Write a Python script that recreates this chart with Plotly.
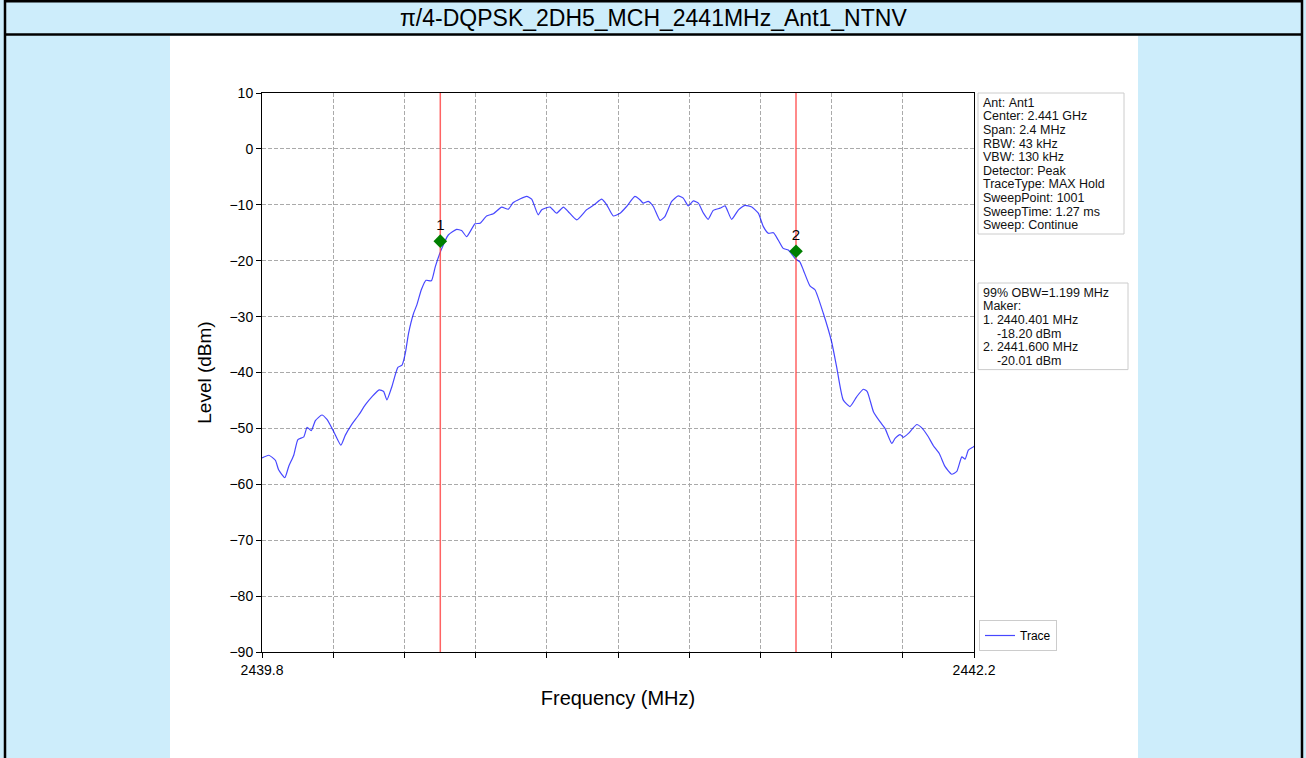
import plotly.graph_objects as go

# ---------------- data ----------------
title_text = "π/4-DQPSK_2DH5_MCH_2441MHz_Ant1_NTNV"

freq_mhz = [
    2439.800, 2439.823, 2439.845, 2439.856, 2439.877, 2439.890, 2439.907, 2439.921,
    2439.941, 2439.952, 2439.966, 2439.980, 2440.002, 2440.019, 2440.042, 2440.066,
    2440.081, 2440.101, 2440.126, 2440.148, 2440.171, 2440.195, 2440.210, 2440.221,
    2440.238, 2440.258, 2440.272, 2440.283, 2440.294, 2440.311, 2440.322, 2440.337,
    2440.353, 2440.371, 2440.384, 2440.403, 2440.428, 2440.456, 2440.473, 2440.490,
    2440.518, 2440.535, 2440.557, 2440.580, 2440.608, 2440.630, 2440.647, 2440.692,
    2440.709, 2440.731, 2440.743, 2440.771, 2440.793, 2440.816, 2440.832, 2440.861,
    2440.894, 2440.922, 2440.945, 2440.962, 2440.984, 2441.007, 2441.029, 2441.057,
    2441.074, 2441.085, 2441.102, 2441.119, 2441.142, 2441.158, 2441.181, 2441.203,
    2441.220, 2441.237, 2441.254, 2441.271, 2441.288, 2441.304, 2441.321, 2441.344,
    2441.361, 2441.383, 2441.406, 2441.428, 2441.451, 2441.473, 2441.490, 2441.507,
    2441.524, 2441.540, 2441.557, 2441.574, 2441.597, 2441.613, 2441.625, 2441.647,
    2441.664, 2441.692, 2441.720, 2441.737, 2441.759, 2441.782, 2441.805, 2441.827,
    2441.840, 2441.861, 2441.883, 2441.900, 2441.923, 2441.934, 2441.951, 2441.962,
    2441.979, 2442.007, 2442.024, 2442.046, 2442.063, 2442.083, 2442.102, 2442.125,
    2442.142, 2442.159, 2442.170, 2442.181, 2442.198, 2442.200,
]
level_dbm = [
    -55.3, -54.8, -55.7, -57.4, -58.8, -56.8, -54.8, -52.0,
    -51.5, -49.8, -50.4, -48.6, -47.6, -48.4, -50.6, -53.0,
    -51.2, -49.4, -47.6, -45.8, -44.3, -43.1, -43.4, -44.9,
    -42.5, -39.1, -38.7, -36.6, -33.0, -29.4, -27.9, -25.2,
    -23.5, -23.6, -21.1, -18.2, -15.4, -14.4, -14.6, -15.7,
    -13.4, -13.3, -12.0, -11.6, -10.4, -10.8, -9.6, -8.5,
    -9.0, -11.8, -10.9, -10.4, -11.5, -10.4, -11.2, -12.7,
    -10.9, -9.9, -9.0, -10.0, -12.0, -11.5, -10.3, -8.5,
    -9.1, -9.7, -9.4, -10.3, -12.8, -12.1, -9.4, -8.4,
    -8.8, -10.2, -9.3, -9.7, -11.5, -12.6, -11.0, -10.6,
    -10.2, -12.6, -10.9, -10.1, -10.4, -11.5, -13.9, -15.1,
    -15.0, -16.3, -17.8, -18.1, -19.6, -20.2, -21.7, -24.5,
    -25.2, -29.4, -34.5, -39.0, -44.9, -46.1, -44.3, -43.0,
    -43.4, -47.0, -48.8, -50.0, -52.7, -51.8, -51.1, -51.6,
    -50.9, -49.3, -49.9, -51.5, -53.1, -54.5, -56.8, -58.2,
    -57.7, -55.1, -55.5, -53.9, -53.3, -53.2,
]

marker_names = ["1", "2"]
marker_freq = [2440.401, 2441.600]
marker_level = [-18.20, -20.01]

x_tick_vals = [2439.8, 2440.04, 2440.28, 2440.52, 2440.76, 2441.0,
               2441.24, 2441.48, 2441.72, 2441.96, 2442.2]
x_tick_text = ["2439.8", "", "", "", "", "", "", "", "", "", "2442.2"]
y_tick_vals = [10, 0, -10, -20, -30, -40, -50, -60, -70, -80, -90]
y_tick_text = ["10", "0", "−10", "−20", "−30", "−40", "−50", "−60", "−70", "−80", "−90"]

info_lines = ["Ant: Ant1", "Center: 2.441 GHz", "Span: 2.4 MHz", "RBW: 43 kHz",
              "VBW: 130 kHz", "Detector: Peak", "TraceType: MAX Hold",
              "SweepPoint: 1001", "SweepTime: 1.27 ms", "Sweep: Continue"]
obw_lines = ["99% OBW=1.199 MHz", "Maker:",
             "1. 2440.401 MHz", "    -18.20 dBm",
             "2. 2441.600 MHz", "    -20.01 dBm"]

# ---------------- layout helpers ----------------
W, H = 1306, 758
L, R, T, B = 262, 974, 93, 652
marker_offset_db = 1.7
FONT = "Liberation Sans, Arial, sans-serif"
LINE_STEP = 13.6
INFO_FS = 12.5


def px(xp):
    return (xp - L) / (R - L)


def py(yp):
    return (B - yp) / (B - T)


fig = go.Figure()

# spectrum trace
fig.add_trace(go.Scatter(x=freq_mhz, y=level_dbm, mode="lines", name="Trace",
                         line=dict(color="rgba(0,0,255,0.72)", width=1.2,
                                   shape="spline", smoothing=0.5)))

# marker vertical lines
for f in marker_freq:
    fig.add_trace(go.Scatter(x=[f, f], y=[-90, 10], mode="lines", showlegend=False,
                             hoverinfo="skip",
                             line=dict(color="rgba(255,60,60,0.8)", width=1.5)))

# marker diamonds + labels
fig.add_trace(go.Scatter(x=marker_freq, y=[v + marker_offset_db for v in marker_level],
                         mode="markers+text", text=marker_names, textposition="top center",
                         textfont=dict(family=FONT, size=15, color="black"),
                         showlegend=False,
                         marker=dict(symbol="diamond", size=10.5, color="#007f00",
                                     line=dict(width=0))))

box1_top = 93
box1_bot = box1_top + 5 + LINE_STEP * len(info_lines)
box2_top = 283
box2_bot = box2_top + 5 + LINE_STEP * len(obw_lines)

shapes = []
# white central panel
shapes.append(dict(type="rect", xref="paper", yref="paper", layer="below",
                   x0=px(170), x1=px(1138), y0=py(36), y1=py(H),
                   fillcolor="white", line=dict(width=0)))
# frame lines
shapes.append(dict(type="line", xref="paper", yref="paper", x0=px(4), x1=px(1302),
                   y0=py(1), y1=py(1), line=dict(color="black", width=3)))
shapes.append(dict(type="line", xref="paper", yref="paper", x0=px(4), x1=px(1302),
                   y0=py(34.5), y1=py(34.5), line=dict(color="black", width=2.5)))
shapes.append(dict(type="line", xref="paper", yref="paper", x0=px(5), x1=px(5),
                   y0=py(0), y1=py(H), line=dict(color="black", width=2.5)))
shapes.append(dict(type="line", xref="paper", yref="paper", x0=px(1302), x1=px(1302),
                   y0=py(0), y1=py(H), line=dict(color="black", width=2.5)))
# info boxes
shapes.append(dict(type="rect", xref="paper", yref="paper", x0=px(978), x1=px(1124),
                   y0=py(box1_top), y1=py(box1_bot), fillcolor="white",
                   line=dict(color="#cccccc", width=1)))
shapes.append(dict(type="rect", xref="paper", yref="paper", x0=px(978), x1=px(1128),
                   y0=py(box2_top), y1=py(box2_bot), fillcolor="white",
                   line=dict(color="#cccccc", width=1)))

annotations = []
annotations.append(dict(text=title_text, xref="paper", yref="paper", x=px(653), y=py(18),
                        xanchor="center", yanchor="middle", showarrow=False,
                        font=dict(family=FONT, size=23, color="black")))
for i, s in enumerate(info_lines):
    annotations.append(dict(text=s.replace(" ", "&nbsp;"), xref="paper", yref="paper",
                            x=px(981), y=py(box1_top + 3 + LINE_STEP * (i + 0.5)),
                            xanchor="left", yanchor="middle", showarrow=False,
                            font=dict(family=FONT, size=INFO_FS, color="#111111")))
for i, s in enumerate(obw_lines):
    annotations.append(dict(text=s.replace(" ", "&nbsp;"), xref="paper", yref="paper",
                            x=px(981), y=py(box2_top + 3 + LINE_STEP * (i + 0.5)),
                            xanchor="left", yanchor="middle", showarrow=False,
                            font=dict(family=FONT, size=INFO_FS, color="#111111")))

fig.update_layout(
    width=W, height=H,
    margin=dict(l=L, r=W - R, t=T, b=H - B, pad=0),
    paper_bgcolor="#cdedfb", plot_bgcolor="white",
    font=dict(family=FONT, color="black"),
    shapes=shapes, annotations=annotations,
    showlegend=True,
    legend=dict(x=px(979), y=py(651), xanchor="left", yanchor="bottom",
                bgcolor="white", bordercolor="#cccccc", borderwidth=1,
                font=dict(family=FONT, size=12, color="black"),
                itemwidth=30, tracegroupgap=0),
)
fig.update_xaxes(range=[2439.8, 2442.2], tickvals=x_tick_vals, ticktext=x_tick_text,
                 ticks="outside", ticklen=5, tickwidth=1, tickcolor="black",
                 showline=True, mirror=True, linecolor="black", linewidth=1,
                 showgrid=True, gridcolor="#aaaaaa", griddash="4px,2px", gridwidth=1,
                 zeroline=False, tickfont=dict(size=14),
                 title=dict(text="Frequency (MHz)", font=dict(size=20), standoff=14))
fig.update_yaxes(range=[-90, 10], tickvals=y_tick_vals, ticktext=y_tick_text,
                 ticks="outside", ticklen=5, tickwidth=1, tickcolor="black",
                 showline=True, mirror=True, linecolor="black", linewidth=1,
                 showgrid=True, gridcolor="#aaaaaa", griddash="4px,2px", gridwidth=1,
                 zeroline=False, tickfont=dict(size=14),
                 title=dict(text="Level (dBm)", font=dict(size=19), standoff=12))

fig.write_html("out.html", config={"displayModeBar": False},
               post_script="document.body.style.margin='0';document.body.style.padding='0';")
